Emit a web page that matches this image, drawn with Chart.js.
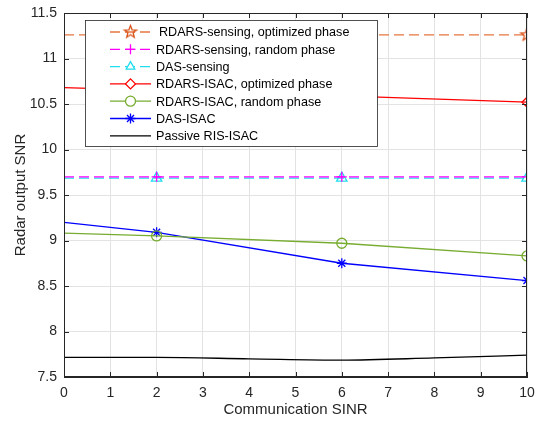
<!DOCTYPE html>
<html>
<head>
<meta charset="utf-8">
<script src="https://cdn.jsdelivr.net/npm/chart.js@4/dist/chart.umd.min.js"></script>
<style>
  html, body { margin: 0; padding: 0; background: #fff; }
  #wrap { width: 537px; height: 422px; }
</style>
</head>
<body>
<div id="wrap"><canvas id="graf" width="537" height="422"></canvas></div>
<script>
// values
const sinr = [0, 2, 6, 10]
const sensOpt = [11.26, 11.26, 11.26, 11.26]
const sensRand = [9.70, 9.70, 9.70, 9.70]
const dasSens = [9.685, 9.685, 9.685, 9.685]
const isacOpt = [10.68, 10.65, 10.59, 10.52]
const isacRand = [9.08, 9.05, 8.97, 8.83]
const dasIsac = [9.20, 9.09, 8.75, 8.56]
const passiveX = [0, 2, 4, 6, 8, 10]
const passive = [7.715, 7.715, 7.70, 7.685, 7.71, 7.74]
const xTicks = [0, 1, 2, 3, 4, 5, 6, 7, 8, 9, 10]
const yTicks = [7.5, 8, 8.5, 9, 9.5, 10, 10.5, 11, 11.5]

const labels = ['RDARS-sensing, optimized phase', 'RDARS-sensing, random phase', 'DAS-sensing',
  'RDARS-ISAC, optimized phase', 'RDARS-ISAC, random phase', 'DAS-ISAC', 'Passive RIS-ISAC']

// five point star marker, chart.js has none
function pentagram(color, r){
  const c = document.createElement('canvas')
  c.width = r*2+4; c.height = r*2+4
  const g = c.getContext('2d')
  g.translate(r+2, r+2)
  g.beginPath()
  for(let i=0;i<10;i++){
    let rr = i%2==0 ? r : r*0.42
    let a = -Math.PI/2 + i*Math.PI/5
    g.lineTo(rr*Math.cos(a), rr*Math.sin(a))
  }
  g.closePath()
  g.strokeStyle = color
  g.lineWidth = 1.3
  g.stroke()
  return c
}
const starImg = pentagram('#D95319', 6.5)

function pts(xs, ys){ return xs.map((x,i)=>({x:x, y:ys[i]})) }
const rad = [0, 5, 5, 5]

function ds(i, xs, ys, color, style, dash, r){
  return {
    label: labels[i], data: pts(xs, ys), borderColor: color, backgroundColor: 'rgba(0,0,0,0)',
    borderWidth: 1.3, borderDash: dash, pointStyle: style, pointRadius: r, pointHoverRadius: r,
    pointBorderColor: color, pointBorderWidth: 1.3, tension: 0
  }
}

const sets = [
  ds(0, sinr, sensOpt, '#E8753F', starImg, [10,5], rad),
  ds(1, sinr, sensRand, '#FF00FF', 'cross', [10,5], rad),
  ds(2, sinr, dasSens, '#22DDEE', 'triangle', [10,5], [0, 6, 6, 6]),
  ds(3, sinr, isacOpt, '#FF0000', 'rectRot', [], rad),
  ds(4, sinr, isacRand, '#77AC30', 'circle', [], rad),
  ds(5, sinr, dasIsac, '#0000FF', 'star', [], rad),
  ds(6, passiveX, passive, '#000000', false, [], 0)
]
sets[6].tension = 0.3
sets[6].cubicInterpolationMode = 'monotone'

const boxPlugin = {
  id: 'box',
  afterDatasetsDraw(chart){
    const ctx = chart.ctx
    const a = chart.chartArea
    const xs = chart.scales.x, ys = chart.scales.y
    ctx.save()
    ctx.strokeStyle = '#262626'
    ctx.lineWidth = 1
    ctx.setLineDash([])
    ctx.beginPath()
    xTicks.forEach(v => {
      const p = Math.round(xs.getPixelForValue(v)) + 0.5
      ctx.moveTo(p, a.bottom); ctx.lineTo(p, a.bottom-5)
      ctx.moveTo(p, a.top); ctx.lineTo(p, a.top+5)
    })
    yTicks.forEach(v => {
      const p = Math.round(ys.getPixelForValue(v)) + 0.5
      ctx.moveTo(a.left, p); ctx.lineTo(a.left+5, p)
      ctx.moveTo(a.right, p); ctx.lineTo(a.right-5, p)
    })
    ctx.stroke()
    ctx.strokeRect(a.left+0.5, a.top+0.5, a.right-a.left-1, a.bottom-a.top-1)

    // legend box inside plot
    const L = 85, T = 20, W = 292, H = 126
    ctx.fillStyle = '#fff'
    ctx.fillRect(L, T, W, H)
    ctx.lineWidth = 0.8
    ctx.strokeRect(L+0.5, T+0.5, W, H)
    ctx.font = '12.6px "Liberation Sans", Arial, sans-serif'
    ctx.textBaseline = 'middle'
    chart.data.datasets.forEach((d, i) => {
      const y = 32 + i*17.3
      ctx.strokeStyle = d.borderColor
      ctx.lineWidth = 1.3
      ctx.setLineDash(d.borderDash)
      ctx.beginPath(); ctx.moveTo(110, y); ctx.lineTo(151, y); ctx.stroke()
      ctx.setLineDash([])
      if(d.pointStyle){
        ctx.fillStyle = '#fff'
        ctx.strokeStyle = d.borderColor
        Chart.helpers.drawPoint(ctx, {pointStyle: d.pointStyle, radius: 5, rotation: 0, borderWidth: 1.3}, 130.5, y)
      }
      ctx.fillStyle = '#000'
      ctx.fillText(d.label, i==0 ? 159 : 156, y+1)
    })
    ctx.restore()
  }
}

const tickFont = { family: '"Liberation Sans", Arial, sans-serif', size: 14 }
const titleFont = { family: '"Liberation Sans", Arial, sans-serif', size: 15 }

new Chart(document.getElementById('graf'), {
  type: 'line',
  data: { datasets: sets },
  options: {
    responsive: false,
    animation: false,
    layout: { padding: { left: 0, top: 13, right: 10, bottom: 0 } },
    plugins: { legend: { display: false }, tooltip: { enabled: false } },
    scales: {
      x: {
        type: 'linear', min: 0, max: 10,
        afterBuildTicks: s => { s.ticks = xTicks.map(v => ({value: v})) },
        afterFit: s => { s.height = 45; s.paddingLeft = 0; s.paddingRight = 0 },
        grid: { color: '#E3E3E3', drawTicks: false },
        border: { color: '#262626' },
        ticks: { color: '#262626', font: tickFont, padding: 8, maxRotation: 0, callback: v => String(v) },
        title: { display: true, text: 'Communication SINR', color: '#262626', font: titleFont, padding: {top: 0, bottom: 3} }
      },
      y: {
        type: 'linear', min: 7.5, max: 11.5,
        afterBuildTicks: s => { s.ticks = yTicks.map(v => ({value: v})) },
        afterFit: s => { s.width = 64; s.paddingTop = 0; s.paddingBottom = 0 },
        grid: { color: '#E3E3E3', drawTicks: false },
        border: { color: '#262626' },
        ticks: { color: '#262626', font: tickFont, padding: 7, callback: v => String(v) },
        title: { display: true, text: 'Radar output SNR', color: '#262626', font: titleFont, padding: {top: 12, bottom: 0} }
      }
    }
  },
  plugins: [boxPlugin]
})
</script>
</body>
</html>
